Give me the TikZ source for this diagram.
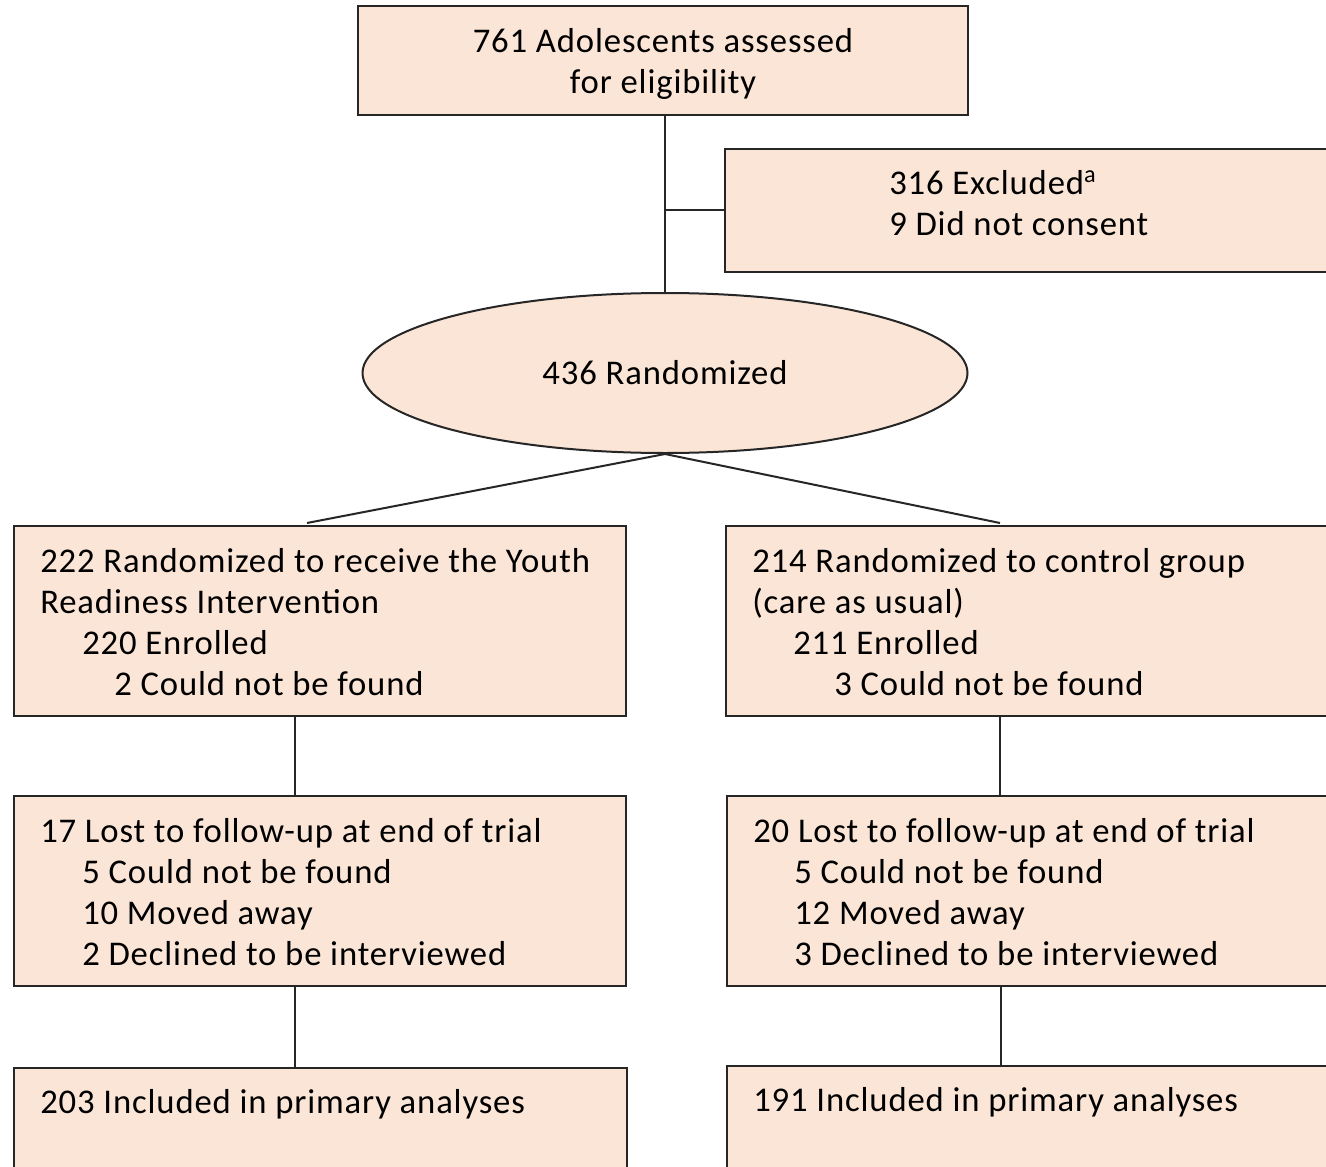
\documentclass[tikz,border=0pt]{standalone}
\usepackage{fontspec}
\setmainfont{Carlito}[LetterSpace=2.5]
\usetikzlibrary{shapes.geometric}
\definecolor{boxfill}{HTML}{FBE5D6}
\definecolor{edgecol}{HTML}{262626}
\begin{document}
\begin{tikzpicture}[x=0.75pt,y=-0.75pt,
  box/.style={draw=edgecol,fill=boxfill,line width=1.5pt,minimum width=#1,inner sep=0pt},
  txt/.style={inner sep=0pt,align=left,anchor=north west,font=\fontsize{26}{30.75}\selectfont},
  ctxt/.style={inner sep=0pt,align=center,font=\fontsize{26}{30.75}\selectfont},
  conn/.style={draw=edgecol,line width=1.5pt}]
\useasboundingbox (0,0) rectangle (1326,1166);
\clip (0,0) rectangle (1326,1166);
\fill[white] (0,0) rectangle (1326,1166);
% boxes
\node[box=457.5pt,minimum height=81.75pt] (top) at (663,60.5) {};
\node[box=461.25pt,minimum height=92.25pt] (excl) at (1032.5,210.5) {};
\node[ellipse,draw=edgecol,fill=boxfill,line width=1.5pt,minimum width=453.75pt,minimum height=120pt,inner sep=0pt,font=\fontsize{26}{30.75}\selectfont] (ell) at (665,373) {436 Randomized};
\node[box=459pt,minimum height=142.5pt] (L1) at (320,621) {};
\node[box=460.5pt,minimum height=142.5pt] (R1) at (1033,621) {};
\node[box=459pt,minimum height=142.5pt] (L2) at (320,891) {};
\node[box=459.75pt,minimum height=142.5pt] (R2) at (1033.5,891) {};
\node[box=459.75pt,minimum height=99pt] (L3) at (320.5,1134) {};
\node[box=459.75pt,minimum height=100.5pt] (R3) at (1033.5,1133) {};
% texts
\node[ctxt] (toptxt) at (663,64) {761 Adolescents assessed\\for eligibility};
\node[txt] (excltxt) at (889,165.9) {\strut 316 Excluded\textsuperscript{a}\\9 Did not consent};
\node[txt] (L1txt) at (40,543.9) {\strut 222 Randomized to receive the Youth\\Readiness Intervention\\\hspace*{31.5pt}220 Enrolled\\\hspace*{55.5pt}2 Could not be found};
\node[txt] (R1txt) at (752,543.9) {\strut 214 Randomized to control group\\(care as usual)\\\hspace*{30.75pt}211 Enrolled\\\hspace*{61.5pt}3 Could not be found};
\node[txt] (L2txt) at (40,813.9) {\strut 17 Lost to follow-up at end of trial\\\hspace*{31.5pt}5 Could not be found\\\hspace*{31.5pt}10 Moved away\\\hspace*{31.5pt}2 Declined to be interviewed};
\node[txt] (R2txt) at (753,813.9) {\strut 20 Lost to follow-up at end of trial\\\hspace*{30.75pt}5 Could not be found\\\hspace*{30.75pt}12 Moved away\\\hspace*{30.75pt}3 Declined to be interviewed};
\node[txt] (L3txt) at (40,1084.9) {\strut 203 Included in primary analyses};
\node[txt] (R3txt) at (753,1082.9) {\strut 191 Included in primary analyses};
% connectors
\coordinate (cl) at (295,0);
\coordinate (cr) at (1000,0);
\coordinate (cr2) at (1001,0);
\coordinate (lend) at (307,523);
\coordinate (rend) at (1000,523);
\draw[conn] (top.south -| ell.north) -- (ell.north);
\draw[conn] (excl.west -| ell.north) -- (excl.west);
\draw[conn] (ell.south) -- (lend);
\draw[conn] (ell.south) -- (rend);
\draw[conn] (L1.south -| cl) -- (L2.north -| cl);
\draw[conn] (R1.south -| cr) -- (R2.north -| cr);
\draw[conn] (L2.south -| cl) -- (L3.north -| cl);
\draw[conn] (R2.south -| cr2) -- (R3.north -| cr2);
\end{tikzpicture}
\end{document}
